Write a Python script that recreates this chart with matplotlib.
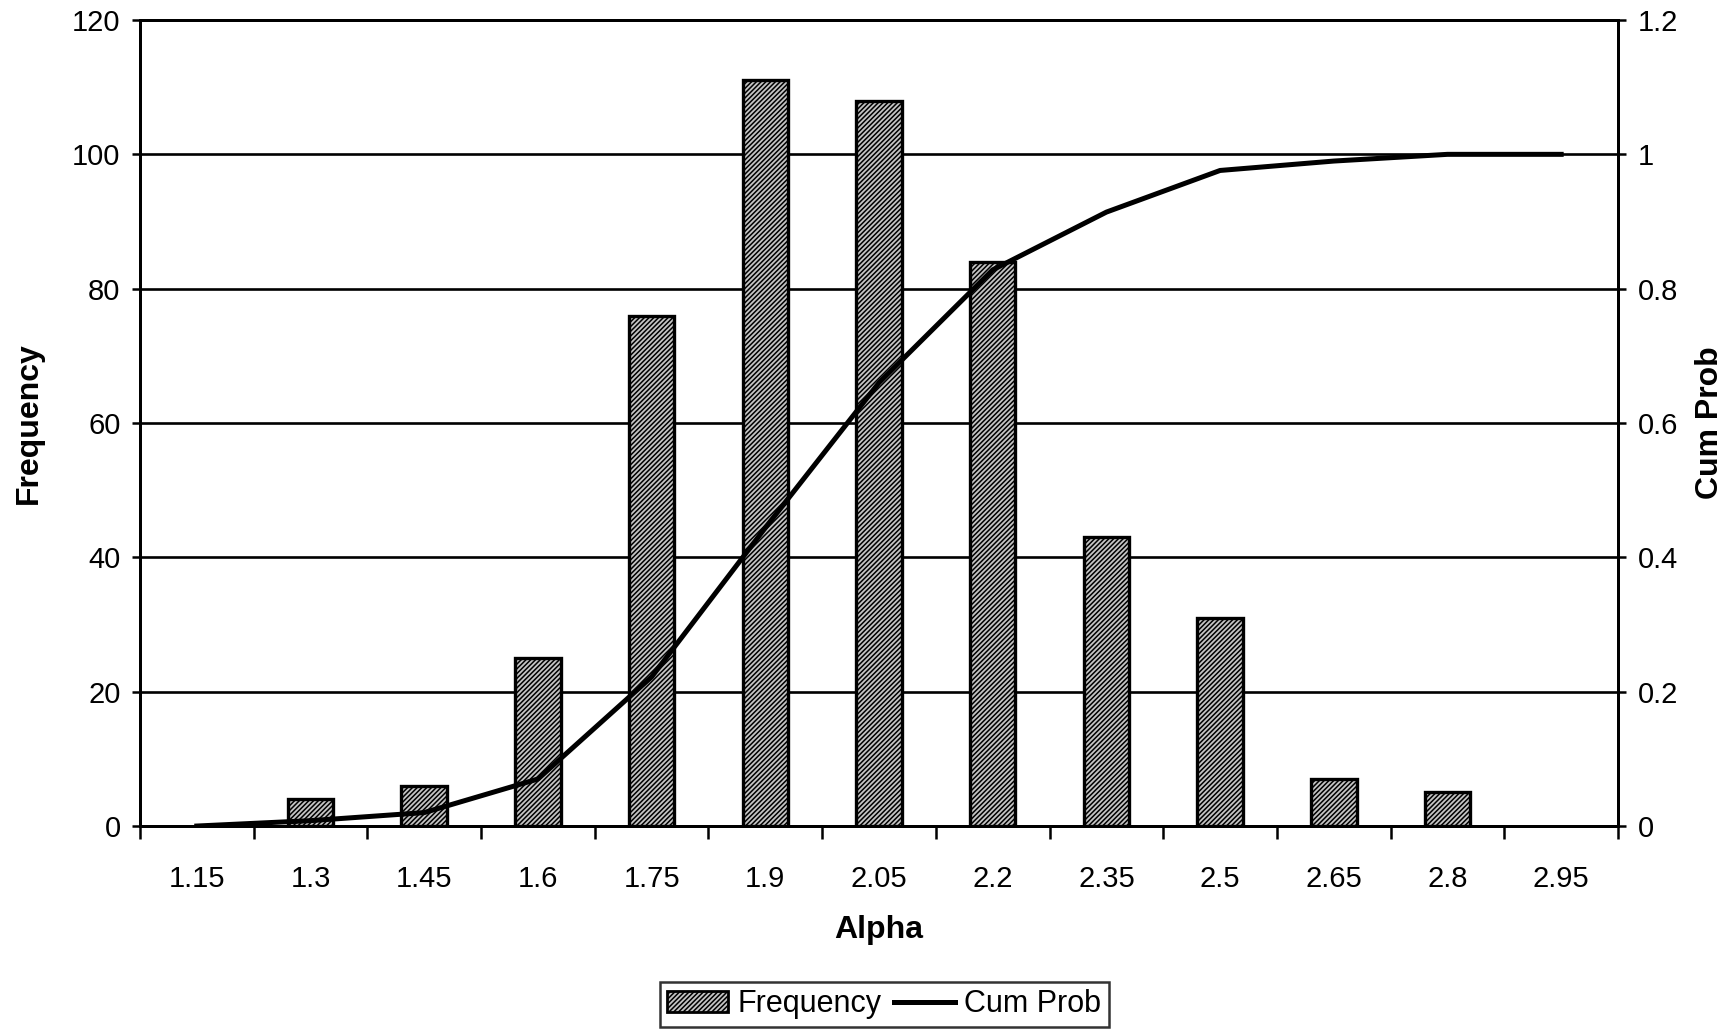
import matplotlib

matplotlib.use("Agg")
import matplotlib.pyplot as plt
import numpy as np
from matplotlib.lines import Line2D
from matplotlib.patches import Patch
from matplotlib.ticker import FixedLocator

plt.rcParams.update({
    "font.family": ["Liberation Sans", "DejaVu Sans"],
    "font.size": 21,
    "hatch.linewidth": 1.1,
    "hatch.color": "#3c3c3c",
})

# Histogram of alpha with its cumulative probability
alpha_bins = ["1.15", "1.3", "1.45", "1.6", "1.75", "1.9", "2.05",
              "2.2", "2.35", "2.5", "2.65", "2.8", "2.95"]
frequency = [0, 4, 6, 25, 76, 111, 108, 84, 43, 31, 7, 5, 0]
cum_prob = [0.0, 0.008, 0.02, 0.07, 0.222, 0.444, 0.66,
            0.828, 0.914, 0.976, 0.99, 1.0, 1.0]

freq_ticks = [0, 20, 40, 60, 80, 100, 120]
prob_ticks = [0, 0.2, 0.4, 0.6, 0.8, 1.0, 1.2]
prob_labels = ["0", "0.2", "0.4", "0.6", "0.8", "1", "1.2"]

BAR_FACE = "#c4c4c4"
BAR_HATCH = "///////"
INK = "black"

fig = plt.figure(figsize=(17.32, 10.31), dpi=100)
ax = fig.add_axes([0.0808, 0.1988, 0.8534, 0.7818])
ax2 = ax.twinx()

# empty bins get no bar
x = np.arange(len(alpha_bins))
shown = [i for i, f in enumerate(frequency) if f > 0]
ax.bar(x[shown], [frequency[i] for i in shown], width=0.4, color=BAR_FACE,
       edgecolor=INK, linewidth=2.4, hatch=BAR_HATCH, zorder=3)

ax.set_xlim(-0.5, len(alpha_bins) - 0.5)
ax.set_ylim(0, 120)
ax.set_yticks(freq_ticks)
ax.yaxis.grid(True, color=INK, linewidth=1.9, zorder=0)
ax.set_axisbelow(True)

# category labels in the middle, tick marks on the boundaries
ax.set_xticks(x)
ax.set_xticklabels(alpha_bins)
ax.xaxis.set_minor_locator(FixedLocator(np.arange(-0.5, len(alpha_bins), 1.0)))
ax.tick_params(axis="x", which="major", length=0, pad=28)
ax.tick_params(axis="x", which="minor", length=9, width=1.8, direction="out")
ax.tick_params(axis="y", length=6, width=1.8, direction="out", pad=8)

ax.set_xlabel("Alpha", fontweight="bold", fontsize=23, labelpad=16)
ax.set_ylabel("Frequency", fontweight="bold", fontsize=23, labelpad=20)

ax2.plot(x, cum_prob, color=INK, linewidth=3.6, solid_joinstyle="round",
         zorder=4)
ax2.set_ylim(0, 1.2)
ax2.set_yticks(prob_ticks)
ax2.set_yticklabels(prob_labels)
ax2.tick_params(axis="y", length=6, width=1.8, direction="out", pad=8)
ax2.set_ylabel("Cum Prob", fontweight="bold", fontsize=23, labelpad=12)

for a in (ax, ax2):
    for s in a.spines.values():
        s.set_linewidth(2.1)
        s.set_color(INK)

handles = [
    Patch(facecolor=BAR_FACE, edgecolor=INK, linewidth=2.0, hatch=BAR_HATCH),
    Line2D([0], [0], color=INK, linewidth=3.6),
]
leg = fig.legend(handles, ["Frequency", "Cum Prob"], loc="lower center",
                 bbox_to_anchor=(0.5105, 0.004), borderaxespad=0, ncol=2,
                 frameon=True, fancybox=False, edgecolor=INK,
                 handlelength=2.0, handletextpad=0.3, columnspacing=0.4,
                 borderpad=0.25, fontsize=22)
leg.get_frame().set_linewidth(1.8)

fig.savefig("out.png", dpi=100)
